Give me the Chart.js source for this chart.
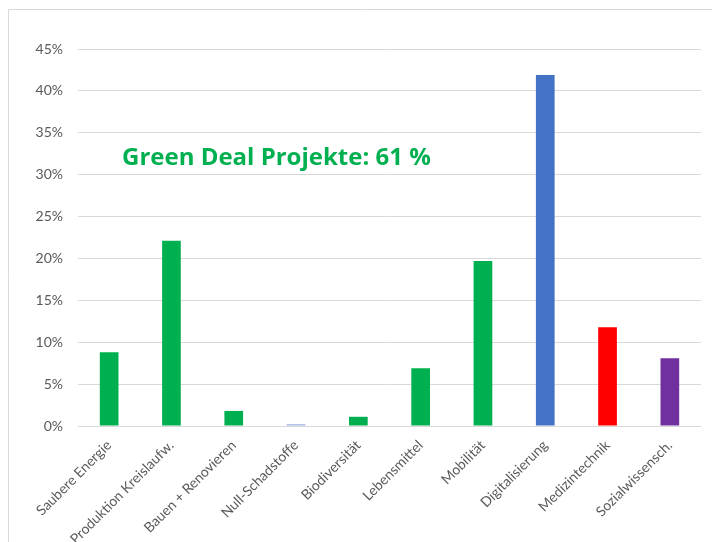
<!DOCTYPE html>
<html>
<head>
<meta charset="utf-8">
<script src="https://cdn.jsdelivr.net/npm/chart.js@4/dist/chart.umd.min.js"></script>
<style>
html,body{margin:0;padding:0;background:#fff;}
#wrap{position:relative;width:712px;height:542px;}
</style>
</head>
<body>
<div id="wrap"><canvas id="c" width="712" height="542"></canvas></div>
<script>
const categories = ["Saubere Energie","Produktion Kreislaufw.","Bauen + Renovieren","Null-Schadstoffe","Biodiversität","Lebensmittel","Mobilität","Digitalisierung","Medizintechnik","Sozialwissensch."];
const values = [8.8, 22.1, 1.8, 0.2, 1.1, 6.9, 19.7, 41.9, 11.8, 8.1];
const barColors = ["#00B050","#00B050","#00B050","#8FAADC","#00B050","#00B050","#00B050","#4472C4","#FF0000","#7030A0"];
const yTicks = [0,5,10,15,20,25,30,35,40,45];
const annotationText = "Green Deal Projekte: 61 %";

const frame = {
  id: 'frame',
  beforeDraw(chart){
    const ctx = chart.ctx;
    ctx.save();
    ctx.fillStyle = '#fff';
    ctx.fillRect(0,0,chart.width,chart.height);
    ctx.strokeStyle = '#d9d9d9';
    ctx.lineWidth = 1;
    ctx.beginPath();
    ctx.moveTo(8.5, 542);
    ctx.lineTo(8.5, 9.5);
    ctx.lineTo(712, 9.5);
    ctx.stroke();
    ctx.restore();
  }
};
const note = {
  id: 'note',
  afterDatasetsDraw(chart){
    const ctx = chart.ctx;
    const area = chart.chartArea;
    ctx.save();
    ctx.font = 'bold 24px "Open Sans", Lato, sans-serif';
    ctx.fillStyle = '#00B050';
    ctx.textBaseline = 'alphabetic';
    ctx.textAlign = 'left';
    ctx.fillText(annotationText, area.left + 44, chart.scales.y.getPixelForValue(31.1));
    ctx.restore();
  }
};

new Chart(document.getElementById('c'), {
  type: 'bar',
  data: {
    labels: categories,
    datasets: [{
      data: values,
      backgroundColor: barColors,
      borderWidth: 0,
      barPercentage: 0.6,
      categoryPercentage: 0.5
    }]
  },
  options: {
    responsive: false,
    animation: false,
    devicePixelRatio: 1,
    layout: { padding: { top: 49, right: 11, left: 0, bottom: 0 } },
    plugins: { legend: { display: false }, tooltip: { enabled: false } },
    scales: {
      x: {
        grid: { display: false },
        border: { display: false },
        ticks: {
          color: '#595959',
          font: { family: 'Lato, "Open Sans", sans-serif', size: 14 },
          minRotation: 45, maxRotation: 45, autoSkip: false, padding: 3
        },
        afterFit(scale){ scale.height = 116; }
      },
      y: {
        min: 0, max: 45,
        afterBuildTicks(scale){ scale.ticks = yTicks.map(v => ({value: v})); },
        grid: { color: '#d9d9d9', lineWidth: 1, drawTicks: false },
        border: { display: false },
        ticks: {
          color: '#595959',
          font: { family: 'Lato, "Open Sans", sans-serif', size: 14 },
          padding: 15,
          callback: v => v + '%'
        },
        afterFit(scale){ scale.width = 78; }
      }
    }
  },
  plugins: [frame, note]
});
</script>
</body>
</html>
